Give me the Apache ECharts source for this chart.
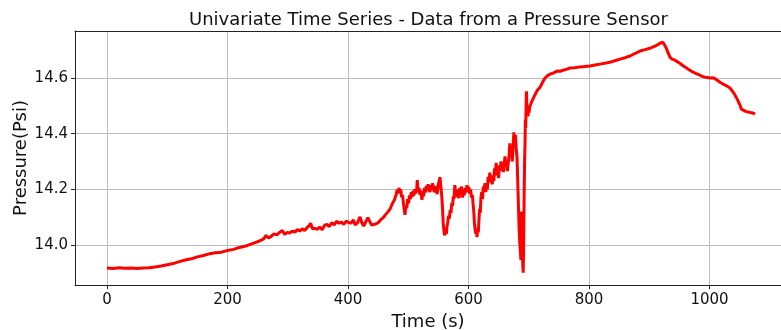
<!DOCTYPE html>
<html>
<head>
<meta charset="utf-8">
<script src="https://cdn.jsdelivr.net/npm/echarts@6/dist/echarts.min.js"></script>
<style>
  html, body { margin: 0; padding: 0; background: #fff; }
  #chart { width: 781px; height: 330px; }
</style>
</head>
<body>
<div id="chart"></div>
<script>
var chartTitle = 'Univariate Time Series - Data from a Pressure Sensor';
var xAxisTitle = 'Time (s)';
var yAxisTitle = 'Pressure(Psi)';

var times = [
  0, 10, 20, 30, 40, 50, 60, 70, 80, 90,
  100, 110, 120, 130, 140, 150, 160, 170, 180, 190,
  200, 210, 220, 230, 240, 248, 255, 260, 264, 268,
  272, 277, 282, 287, 291, 295, 299, 303, 308, 312,
  316, 320, 324, 328, 332, 336, 338, 341, 345, 349,
  353, 357, 361, 365, 369, 373, 377, 381, 385, 389,
  393, 397, 401, 405, 409, 412, 416, 420, 423, 426,
  429, 433, 436, 439, 442, 446, 450, 454, 458, 462,
  466, 470, 474, 477,
  480, 481.5, 483, 484.5, 486, 487.5, 489, 490.5, 492, 493.5,
  494.6, 496, 497.5, 499, 500.5, 502, 503.5, 505, 506.5, 508,
  509.5, 511, 512.5, 514, 515, 516.5, 518, 519.5, 521, 522.8,
  524, 525.5, 527, 528.5, 530, 531.5, 533, 534.5, 536, 537.5,
  539, 540.5, 542, 543.5, 545, 546.5, 548, 549.5, 551, 552.7,
  554, 555.5, 557, 558, 559.3, 560.3, 561.2, 562.3, 563.3, 564.3,
  565.5, 567, 568.3, 569.5, 571, 572.3, 573.5, 574.8, 576, 577.3,
  578.5, 580, 581.3, 582.6, 584, 585.5, 587, 588.5, 590, 591.5,
  593, 594.5, 596, 597.5, 599, 600.5, 602, 603.5, 605, 606.5,
  607.5, 608.8, 609.8, 611, 612.2, 613.3, 614.1, 615.2, 616.3, 617.4,
  618.5, 619.6, 620.7, 622, 623.3, 624.6, 626, 627.3, 628.6, 630,
  631.3, 632.6, 634, 635.4, 636.7, 638, 639.4, 640.7, 642, 643.3,
  644.6, 646, 647.3, 648.6, 650, 651.3, 652.6, 654, 655.3, 656.6,
  658, 659.3, 660.6, 662, 663.3, 664.6, 666, 667.3, 668.6, 670,
  671.3, 672.6, 674, 675.3, 676.6, 678, 679.3, 680.5, 681.5, 682.3,
  683.2, 684, 685, 686, 687, 687.7, 688.3, 689, 689.6, 690.3,
  690.8, 691.4, 692, 692.6, 693.2, 693.8, 694.4, 695, 695.6, 696.2,
  696.8, 697.4, 698.1, 698.8, 699.6, 700.5, 701.5, 702.5, 704, 706,
  710.4, 714, 718.7, 723, 727, 731,
  735.3, 741, 746.9, 752, 756.8, 762, 768.5, 776, 785.1, 793,
  801.7, 810, 818.3, 826, 834.9, 843, 851.5, 860, 868, 876,
  884.6, 893, 901.2, 909.5, 914, 917.8, 922.8, 925, 927.8, 931,
  934.4, 938, 942.7, 947, 951, 955, 959.3, 963, 967.6, 972,
  975.9, 980, 984.2, 988, 992.5, 996, 1000.8, 1005, 1009.1, 1013,
  1017.4, 1021, 1025.7, 1030, 1034, 1038, 1042.3, 1046, 1050.6, 1053,
  1055.6, 1060, 1063.9, 1068, 1072.2, 1075.5
];

var pressures = [
  13.917, 13.915, 13.918, 13.916, 13.917, 13.915, 13.917, 13.918, 13.921, 13.924,
  13.929, 13.933, 13.940, 13.946, 13.950, 13.957, 13.962, 13.968, 13.972, 13.974,
  13.980, 13.984, 13.991, 13.996, 14.004, 14.010, 14.016, 14.022, 14.034, 14.025,
  14.030, 14.040, 14.036, 14.046, 14.052, 14.038, 14.045, 14.043, 14.050, 14.046,
  14.055, 14.050, 14.058, 14.052, 14.062, 14.070, 14.078, 14.058, 14.060, 14.056,
  14.064, 14.055, 14.070, 14.074, 14.066, 14.080, 14.072, 14.085, 14.078, 14.082,
  14.074, 14.086, 14.081, 14.078, 14.090, 14.072, 14.080, 14.101, 14.080, 14.068,
  14.075, 14.098, 14.100, 14.072, 14.066, 14.075, 14.080, 14.090, 14.097, 14.108,
  14.118, 14.130, 14.150, 14.162,
  14.180, 14.198, 14.185, 14.205, 14.192, 14.200, 14.172, 14.180, 14.150, 14.125,
  14.108, 14.140, 14.132, 14.165, 14.150, 14.178, 14.165, 14.190, 14.172, 14.195,
  14.178, 14.200, 14.185, 14.198, 14.233, 14.190, 14.205, 14.180, 14.195, 14.162,
  14.190, 14.175, 14.205, 14.188, 14.212, 14.195, 14.218, 14.200, 14.190, 14.215,
  14.198, 14.222, 14.200, 14.190, 14.212, 14.195, 14.183, 14.210, 14.228, 14.244,
  14.215, 14.180, 14.130, 14.080, 14.050, 14.035, 14.030, 14.048, 14.040, 14.065,
  14.080, 14.105, 14.095, 14.125, 14.115, 14.150, 14.140, 14.175, 14.165, 14.215,
  14.190, 14.200, 14.172, 14.190, 14.168, 14.205, 14.185, 14.210, 14.170, 14.195,
  14.178, 14.205, 14.188, 14.215, 14.190, 14.208, 14.185, 14.200, 14.170, 14.180,
  14.150, 14.120, 14.080, 14.055, 14.040, 14.050, 14.028, 14.060, 14.045, 14.090,
  14.130, 14.115, 14.170, 14.190, 14.165, 14.210, 14.200, 14.222, 14.190, 14.215,
  14.200, 14.245, 14.225, 14.260, 14.230, 14.250, 14.218, 14.240, 14.230, 14.275,
  14.255, 14.295, 14.250, 14.270, 14.240, 14.285, 14.265, 14.300, 14.275, 14.295,
  14.262, 14.290, 14.318, 14.285, 14.300, 14.265, 14.295, 14.320, 14.365, 14.335,
  14.355, 14.300, 14.350, 14.405, 14.370, 14.395, 14.345, 14.316, 14.250, 14.187,
  14.120, 14.060, 14.010, 13.980, 13.946, 14.010, 14.120, 14.050, 13.960, 13.920,
  13.900, 13.970, 14.100, 14.220, 14.310, 14.360, 14.450, 14.420, 14.500, 14.552,
  14.510, 14.470, 14.490, 14.462, 14.488, 14.475, 14.495, 14.490, 14.510, 14.520,
  14.540, 14.555, 14.567, 14.585, 14.600, 14.608,
  14.614, 14.618, 14.625, 14.624, 14.628, 14.631, 14.636, 14.637, 14.640, 14.641,
  14.643, 14.647, 14.650, 14.653, 14.657, 14.662, 14.668, 14.673, 14.679, 14.688,
  14.697, 14.702, 14.707, 14.715, 14.719, 14.725, 14.729, 14.722, 14.710, 14.692,
  14.675, 14.668, 14.664, 14.658, 14.653, 14.646, 14.640, 14.634, 14.628, 14.622,
  14.618, 14.614, 14.610, 14.606, 14.603, 14.602, 14.600, 14.601, 14.598, 14.592,
  14.585, 14.580, 14.575, 14.570, 14.564, 14.553, 14.539, 14.524, 14.503, 14.488,
  14.485, 14.480, 14.478, 14.476, 14.474, 14.470
];

var seriesData = times.map(function (t, i) { return [t, pressures[i]]; });

var font = 'DejaVu Sans';
var ink = '#111';
var chart = echarts.init(document.getElementById('chart'), null, { renderer: 'canvas' });
chart.setOption({
  animation: false,
  backgroundColor: '#ffffff',
  title: {
    text: chartTitle,
    left: 184,
    top: 6,
    textStyle: { fontFamily: font, fontSize: 18, fontWeight: 'normal', color: ink }
  },
  grid: { left: 75, top: 31, right: 0, bottom: 45, show: false, containLabel: false, outerBoundsMode: 'none' },
  xAxis: [{
    type: 'value',
    min: -53.1, max: 1118.7,
    splitNumber: 5,
    name: xAxisTitle,
    nameLocation: 'middle',
    nameGap: 28,
    nameMoveOverlap: false,
    nameTextStyle: { fontFamily: font, fontSize: 18, color: ink },
    axisLine: { show: true, onZero: false, lineStyle: { color: '#222', width: 1 } },
    axisTick: { show: true, inside: false, length: 4, lineStyle: { color: '#222' } },
    axisLabel: {
      fontFamily: font, fontSize: 15, color: ink, margin: 8,
      showMinLabel: false, showMaxLabel: false,
      formatter: function (v) { return String(v); }
    },
    splitLine: { show: true, lineStyle: { color: '#bdbdbd', width: 1 } }
  }, {
    type: 'value',
    position: 'top',
    min: -53.1, max: 1118.7,
    axisLine: { show: true, onZero: false, lineStyle: { color: '#222', width: 1 } },
    axisTick: { show: false },
    axisLabel: { show: false },
    splitLine: { show: false }
  }],
  yAxis: {
    type: 'value',
    min: 13.856, max: 14.769,
    splitNumber: 5,
    name: yAxisTitle,
    nameLocation: 'middle',
    nameGap: 45,
    nameMoveOverlap: false,
    nameTextStyle: { fontFamily: font, fontSize: 18, color: ink },
    axisLine: { show: true, onZero: false, lineStyle: { color: '#222', width: 1 } },
    axisTick: { show: true, inside: false, length: 4, lineStyle: { color: '#222' } },
    axisLabel: {
      fontFamily: font, fontSize: 15, color: ink, margin: 7,
      showMinLabel: false, showMaxLabel: false,
      formatter: function (v) { return v.toFixed(1); }
    },
    splitLine: { show: true, lineStyle: { color: '#bdbdbd', width: 1 } }
  },
  series: [{
    type: 'line',
    xAxisIndex: 0,
    data: seriesData,
    showSymbol: false,
    symbol: 'none',
    lineStyle: { color: '#ff0000', width: 3 },
    itemStyle: { color: '#ff0000' }
  }]
});
</script>
</body>
</html>
